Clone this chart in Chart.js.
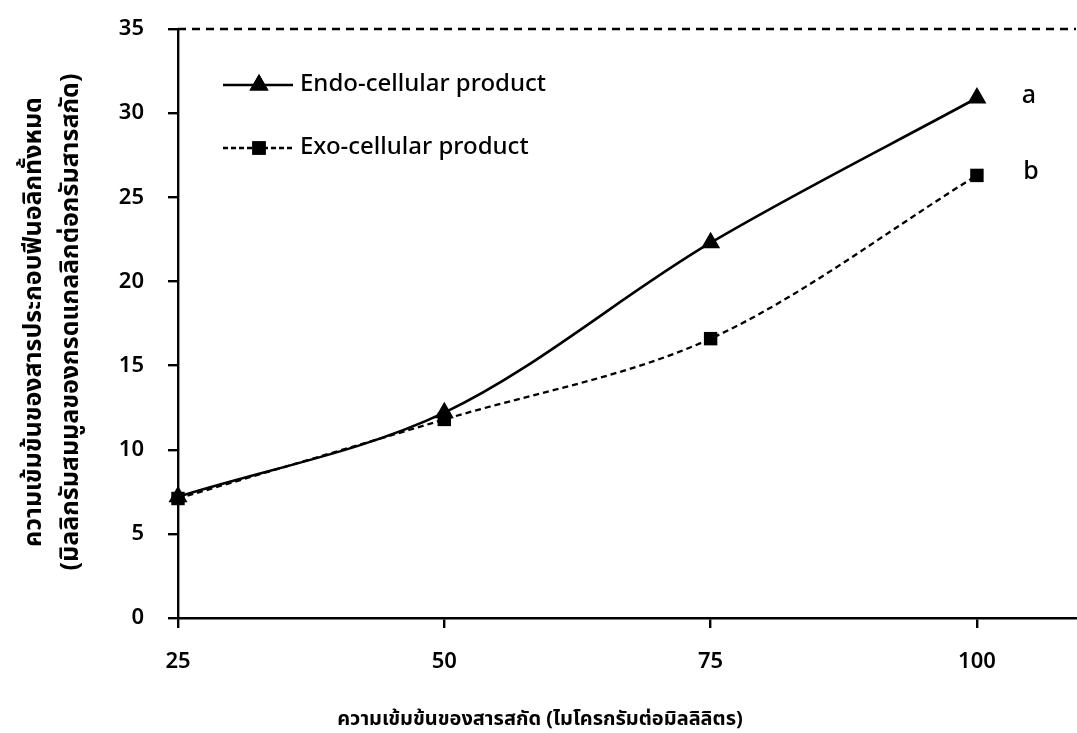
<!DOCTYPE html>
<html>
<head>
<meta charset="utf-8">
<script src="https://cdn.jsdelivr.net/npm/chart.js@4.4.1/dist/chart.umd.min.js"></script>
<style>
  html, body { margin: 0; padding: 0; background: #fff; }
  #wrap { width: 1077px; height: 733px; position: relative; }
</style>
</head>
<body>
<div id="wrap"><canvas id="c" width="1077" height="733"></canvas></div>
<script>
// Extract concentration (µg/mL) and total phenolic content
const concentrations = [25, 50, 75, 100];
const endoValues = [7.2, 12.2, 22.3, 30.9];
const exoValues = [7.1, 11.8, 16.6, 26.3];
const xTicks = [25, 50, 75, 100];
const yTicks = [0, 5, 10, 15, 20, 25, 30, 35];
const seriesNames = ['Endo-cellular product', 'Exo-cellular product'];
const groupLetters = ['a', 'b'];
const xTitle = 'ความเข้มข้นของสารสกัด (ไมโครกรัมต่อมิลลิลิตร)';
const yTitle = ['ความเข้มข้นของสารประกอบฟีนอลิกทั้งหมด', '(มิลลิกรัมสมมูลของกรดแกลลิกต่อกรัมสารสกัด)'];

const FONT = '"Noto Sans", "DejaVu Sans", sans-serif';
const THAI = '"Noto Sans", "Noto Sans Thai", "Noto Sans Thai Looped", sans-serif';

function toPoints(values) {
  return concentrations.map((x, i) => ({ x: x, y: values[i] }));
}

// Dashed line at the top of the plot, legend, letters and axis titles
const decor = {
  id: 'decor',
  afterDraw(chart) {
    const ctx = chart.ctx;
    const a = chart.chartArea;
    const xs = chart.scales.x, ys = chart.scales.y;
    ctx.save();

    // top dashed border
    ctx.strokeStyle = '#000';
    ctx.lineWidth = 2.4;
    ctx.setLineDash([8, 6]);
    ctx.beginPath();
    ctx.moveTo(a.left, a.top);
    ctx.lineTo(a.right, a.top);
    ctx.stroke();

    // legend
    const rows = [
      { y: a.top + 56, dash: [], style: 'triangle', r: 11, lw: 2.6 },
      { y: a.top + 119, dash: [5, 3], style: 'rect', r: 9.5, lw: 2.3 }
    ];
    rows.forEach((row, i) => {
      const x0 = a.left + 45, x1 = a.left + 115, xm = (x0 + x1) / 2 + 1;
      ctx.setLineDash(row.dash);
      ctx.lineWidth = row.lw;
      ctx.beginPath();
      ctx.moveTo(x0, row.y);
      ctx.lineTo(x1, row.y);
      ctx.stroke();
      ctx.setLineDash([]);
      ctx.fillStyle = '#000';
      Chart.helpers.drawPoint(ctx, { pointStyle: row.style, radius: row.r, borderWidth: 0 }, xm, row.y);
      ctx.fill();
      ctx.font = '500 24px ' + FONT;
      ctx.textAlign = 'left';
      ctx.textBaseline = 'middle';
      ctx.fillText(seriesNames[i], x1 + 7, row.y - 1);
    });

    // significance letters next to the last points
    ctx.font = '500 25px ' + FONT;
    ctx.textAlign = 'center';
    ctx.textBaseline = 'middle';
    const lx = xs.getPixelForValue(concentrations[concentrations.length - 1]) + 52;
    ctx.fillText(groupLetters[0], lx, ys.getPixelForValue(endoValues[endoValues.length - 1]) - 2);
    ctx.fillText(groupLetters[1], lx + 2, ys.getPixelForValue(exoValues[exoValues.length - 1]) - 4);

    // axis titles
    ctx.font = 'bold 20px ' + THAI;
    ctx.textAlign = 'center';
    ctx.textBaseline = 'middle';
    ctx.fillText(xTitle, 540, 719);

    ctx.font = 'bold 25px ' + THAI;
    const cy = 322;
    ctx.save();
    ctx.translate(34, cy);
    ctx.rotate(-Math.PI / 2);
    ctx.fillText(yTitle[0], 0, 0);
    ctx.restore();
    ctx.save();
    ctx.translate(71, cy);
    ctx.rotate(-Math.PI / 2);
    ctx.fillText(yTitle[1], 0, 0);
    ctx.restore();

    ctx.restore();
  }
};

new Chart(document.getElementById('c'), {
  type: 'line',
  data: {
    datasets: [
      {
        label: seriesNames[0],
        data: toPoints(endoValues),
        borderColor: '#000',
        backgroundColor: '#000',
        borderWidth: 2.6,
        pointStyle: 'triangle',
        pointRadius: 11,
        pointBorderWidth: 0,
        tension: 0.33,
        clip: false
      },
      {
        label: seriesNames[1],
        data: toPoints(exoValues),
        borderColor: '#000',
        backgroundColor: '#000',
        borderWidth: 2.3,
        borderDash: [6, 4],
        pointStyle: 'rect',
        pointRadius: 9.5,
        pointBorderWidth: 0,
        tension: 0.33,
        clip: false
      }
    ]
  },
  options: {
    responsive: false,
    animation: false,
    devicePixelRatio: 1,
    layout: { autoPadding: false, padding: { top: 29, right: 1, left: 0, bottom: 0 } },
    plugins: { legend: { display: false }, tooltip: { enabled: false } },
    elements: { point: { hoverRadius: 11 } },
    scales: {
      x: {
        type: 'linear',
        min: 25,
        max: 109.3,
        afterBuildTicks(scale) { scale.ticks = xTicks.map(v => ({ value: v })); },
        afterFit(scale) { scale.height = 115; scale.paddingLeft = 0; scale.paddingRight = 0; },
        grid: { drawOnChartArea: false, drawTicks: true, tickLength: 10, color: '#000', lineWidth: 2.4 },
        border: { display: true, color: '#000', width: 2.4 },
        ticks: { color: '#000', padding: 21, font: { family: FONT, size: 22, weight: '600' }, maxRotation: 0 }
      },
      y: {
        min: 0,
        max: 35,
        afterBuildTicks(scale) { scale.ticks = yTicks.map(v => ({ value: v })); },
        afterFit(scale) { scale.width = 178; scale.paddingTop = 0; scale.paddingBottom = 0; },
        grid: { drawOnChartArea: false, drawTicks: true, tickLength: 10, color: '#000', lineWidth: 2.4 },
        border: { display: true, color: '#000', width: 2.4 },
        ticks: { color: '#000', padding: 24, font: { family: FONT, size: 22, weight: '600' } }
      }
    }
  },
  plugins: [decor]
});
</script>
</body>
</html>
